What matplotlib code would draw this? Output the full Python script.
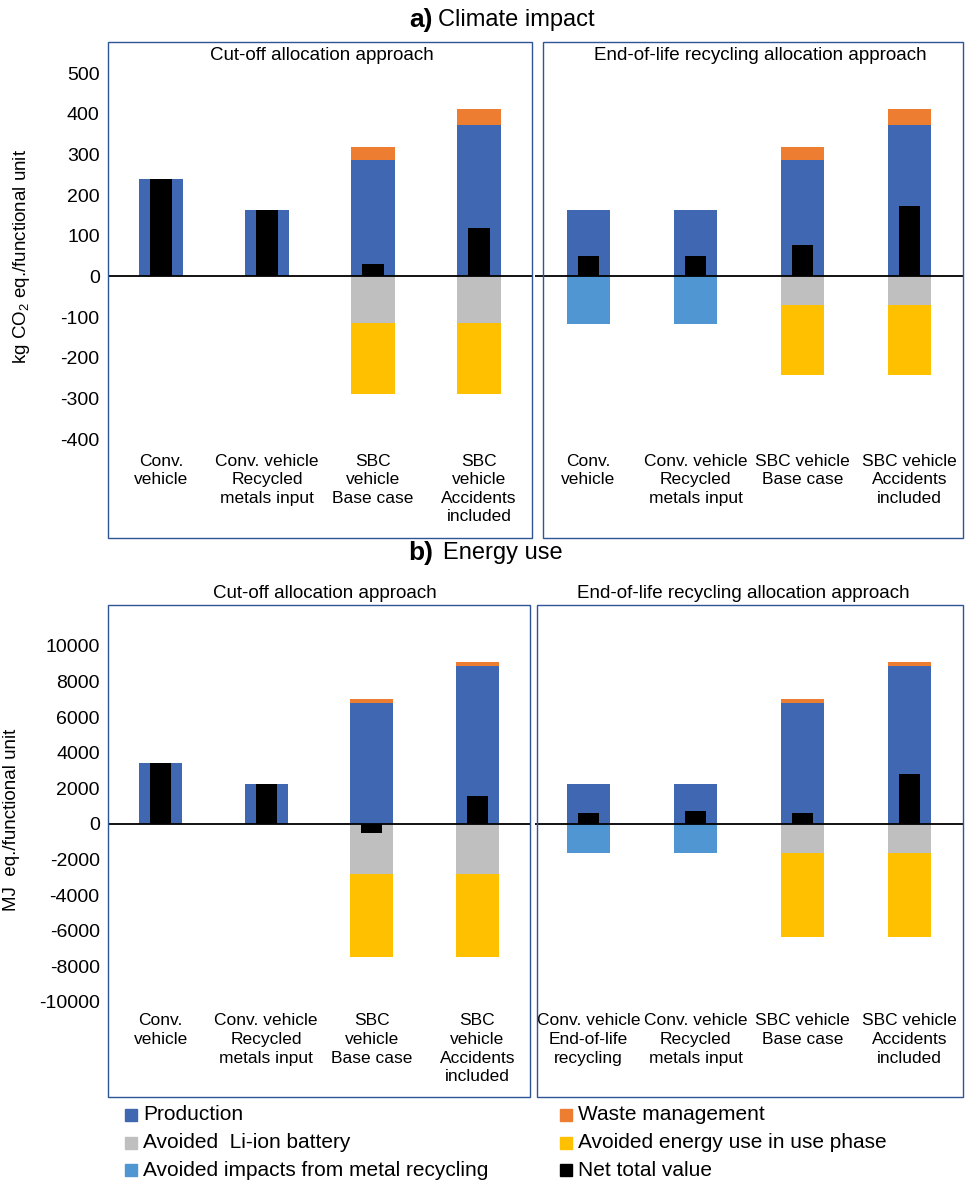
import matplotlib
matplotlib.use("Agg")
import matplotlib.pyplot as plt
from matplotlib.patches import Rectangle

plt.rcParams['font.family'] = ['Liberation Sans', 'DejaVu Sans']
plt.rcParams['axes.unicode_minus'] = False
plt.rcParams['mathtext.fontset'] = 'custom'
plt.rcParams['mathtext.rm'] = 'Liberation Sans'

W, H = 968, 1186
# ---- data ----
labels_a_left = ["Conv.\nvehicle", "Conv. vehicle\nRecycled\nmetals input", "SBC\nvehicle\nBase case", "SBC\nvehicle\nAccidents\nincluded"]
labels_a_right = ["Conv.\nvehicle", "Conv. vehicle\nRecycled\nmetals input", "SBC vehicle\nBase case", "SBC vehicle\nAccidents\nincluded"]
labels_b_left = labels_a_left
labels_b_right = ["Conv. vehicle\nEnd-of-life\nrecycling", "Conv. vehicle\nRecycled\nmetals input", "SBC vehicle\nBase case", "SBC vehicle\nAccidents\nincluded"]

# Climate, cut-off
a_cut_prod = [240, 163, 285, 372]
a_cut_waste = [0, 0, 33, 40]
a_cut_li = [0, 0, -115, -115]
a_cut_energy = [0, 0, -175, -175]
a_cut_metal = [0, 0, 0, 0]
a_cut_net = [240, 163, 30, 120]
# Climate, EoL
a_eol_prod = [163, 163, 285, 372]
a_eol_waste = [0, 0, 33, 40]
a_eol_li = [0, 0, -70, -70]
a_eol_energy = [0, 0, -173, -173]
a_eol_metal = [-117, -117, 0, 0]
a_eol_net = [50, 50, 78, 172]
# Energy, cut-off
b_cut_prod = [3400, 2250, 6800, 8850]
b_cut_waste = [0, 0, 200, 250]
b_cut_li = [0, 0, -2800, -2800]
b_cut_energy = [0, 0, -4700, -4700]
b_cut_metal = [0, 0, 0, 0]
b_cut_net = [3400, 2250, -500, 1600]
# Energy, EoL
b_eol_prod = [2250, 2250, 6800, 8850]
b_eol_waste = [0, 0, 200, 250]
b_eol_li = [0, 0, -1650, -1650]
b_eol_energy = [0, 0, -4700, -4700]
b_eol_metal = [-1650, -1650, 0, 0]
b_eol_net = [600, 750, 600, 2800]

C_PROD = "#4068B2"; C_WASTE = "#ED7D31"; C_LI = "#BFBFBF"
C_EN = "#FFC000"; C_MET = "#5096D2"; C_NET = "black"

fig = plt.figure(figsize=(W/100, H/100), dpi=100)

def ax_px(x0, x1, y0, y1):
    return fig.add_axes([x0/W, 1-y1/H, (x1-x0)/W, (y1-y0)/H])

def box(x0, x1, y0, y1):
    fig.patches.append(Rectangle((x0/W, 1-y1/H), (x1-x0)/W, (y1-y0)/H,
                                 transform=fig.transFigure, fill=False,
                                 edgecolor="#2F5597", lw=1.0))

def panel(ax, prod, waste, li, en, met, net, ylim, ticks, showy, labels, ylabel_y):
    x = range(4)
    bw = 0.41
    ax.bar(x, prod, bw, color=C_PROD, zorder=2)
    ax.bar(x, waste, bw, bottom=prod, color=C_WASTE, zorder=2)
    ax.bar(x, li, bw, color=C_LI, zorder=2)
    ax.bar(x, en, bw, bottom=li, color=C_EN, zorder=2)
    ax.bar(x, met, bw, color=C_MET, zorder=2)
    ax.bar(x, net, 0.2, color=C_NET, zorder=3)
    ax.axhline(0, color="black", lw=1.3, zorder=4)
    ax.set_xlim(-0.5, 3.5); ax.set_ylim(*ylim)
    for s in ax.spines.values(): s.set_visible(False)
    ax.set_xticks([])
    if showy:
        ax.set_yticks(ticks)
        ax.tick_params(axis="y", length=0, labelsize=14, pad=6)
    else:
        ax.set_yticks([])
    ax.patch.set_alpha(0)
    for i, l in enumerate(labels):
        ax.text(i, ylabel_y, l, ha="center", va="top", fontsize=12.5,
                transform=ax.get_xaxis_transform(), linespacing=1.3)

# top panels: 500 at px 73, -400 at px 439
ta = ax_px(108, 532, 73, 439)
panel(ta, a_cut_prod, a_cut_waste, a_cut_li, a_cut_energy, a_cut_metal, a_cut_net,
      (-400, 500), range(-400, 501, 100), True, labels_a_left, -0.04)
tb = ax_px(535, 963, 73, 439)
panel(tb, a_eol_prod, a_eol_waste, a_eol_li, a_eol_energy, a_eol_metal, a_eol_net,
      (-400, 500), [], False, labels_a_right, -0.04)
box(108, 532, 42, 538); box(543, 963, 42, 538)
fig.text(322/W, 1-55/H, "Cut-off allocation approach", ha="center", va="center", fontsize=13.5)
fig.text(760/W, 1-55/H, "End-of-life recycling allocation approach", ha="center", va="center", fontsize=13.5)
fig.text(22/W, 1-256/H, "kg CO$_2$ eq./functional unit", rotation=90, ha="center", va="center", fontsize=13.5)

# bottom: 10000 at px 646, -10000 at px 1002
pxu = (1002-646)/20000
y_top = 624; y_bot = 1002
bymax = 10000 + (646-y_top)/pxu
ba = ax_px(108, 530, y_top, y_bot)
panel(ba, b_cut_prod, b_cut_waste, b_cut_li, b_cut_energy, b_cut_metal, b_cut_net,
      (-10000, bymax), range(-10000, 10001, 2000), True, labels_b_left, -0.03)
bb = ax_px(535, 963, y_top, y_bot)
panel(bb, b_eol_prod, b_eol_waste, b_eol_li, b_eol_energy, b_eol_metal, b_eol_net,
      (-10000, bymax), [], False, labels_b_right, -0.03)
box(108, 530, 605, 1097); box(537, 963, 605, 1097)
fig.text(325/W, 1-593/H, "Cut-off allocation approach", ha="center", va="center", fontsize=13.5)
fig.text(743/W, 1-593/H, "End-of-life recycling allocation approach", ha="center", va="center", fontsize=13.5)
fig.text(12/W, 1-820/H, "MJ  eq./functional unit", rotation=90, ha="center", va="center", fontsize=13.5)

# titles
fig.text(433/W, 1-20/H, "a)", ha="right", va="center", fontsize=19, fontweight="bold")
fig.text(438/W, 1-20/H, "Climate impact", ha="left", va="center", fontsize=17)
fig.text(433/W, 1-553/H, "b)", ha="right", va="center", fontsize=19, fontweight="bold")
fig.text(443/W, 1-553/H, "Energy use", ha="left", va="center", fontsize=17)

# legend
leg = [("Production", C_PROD, 131, 1115), ("Avoided  Li-ion battery", C_LI, 131, 1143),
       ("Avoided impacts from metal recycling", C_MET, 131, 1170),
       ("Waste management", C_WASTE, 566, 1115), ("Avoided energy use in use phase", C_EN, 566, 1143),
       ("Net total value", C_NET, 566, 1170)]
for name, c, x, y in leg:
    fig.patches.append(Rectangle(((x-6)/W, 1-(y+6)/H), 12/W, 12/H, transform=fig.transFigure, color=c))
    fig.text((x+12)/W, 1-y/H, name, ha="left", va="center", fontsize=15)

fig.savefig("out.png", dpi=100)
